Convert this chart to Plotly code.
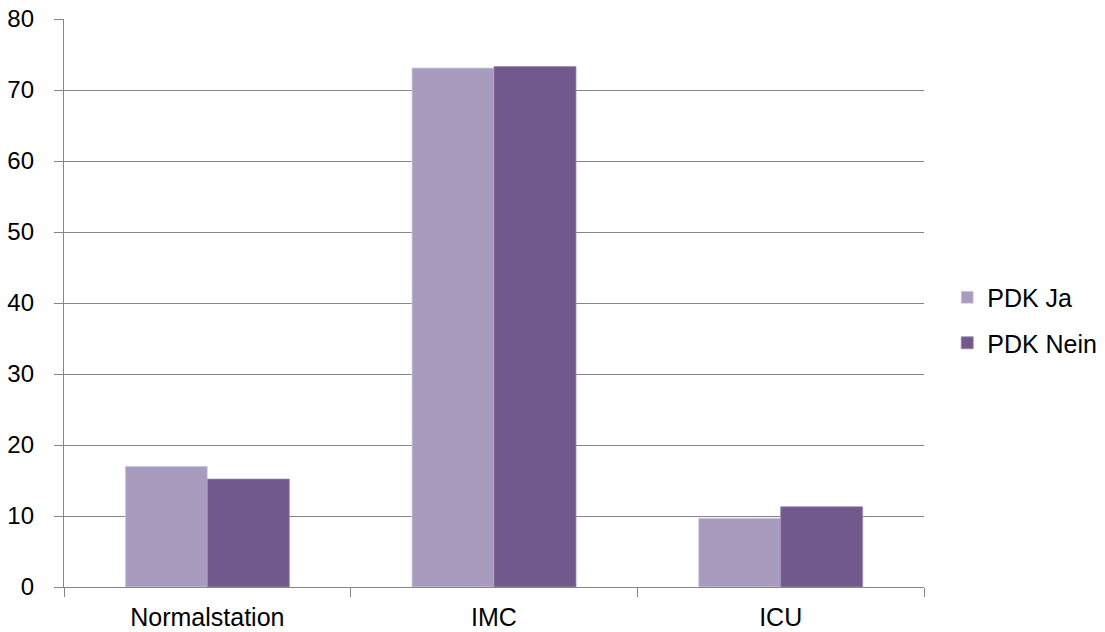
import plotly.graph_objects as go

# Verteilung der Patienten nach Station (in %)
categories = ["Normalstation", "IMC", "ICU"]
pdk_ja = [17.0, 73.1, 9.7]
pdk_nein = [15.2, 73.3, 11.3]
series_names = ["PDK Ja", "PDK Nein"]
y_ticks = [0, 10, 20, 30, 40, 50, 60, 70, 80]

color_ja = "#A99BBE"
color_nein = "#71598E"
grid_color = "#868686"
font_family = "Liberation Sans, Arial, sans-serif"

fig = go.Figure()
fig.add_trace(go.Bar(
    x=categories, y=pdk_ja, name=series_names[0],
    marker=dict(color=color_ja, line=dict(color="#D8D0E4", width=0.8)),
    legendgroup="ja",
))
fig.add_trace(go.Bar(
    x=categories, y=pdk_nein, name=series_names[1],
    marker=dict(color=color_nein, line=dict(color="#9A88B0", width=0.8)),
    legendgroup="nein",
))

fig.update_layout(
    width=1105, height=632,
    margin=dict(l=64, r=181, t=19, b=45, autoexpand=False),
    paper_bgcolor="white", plot_bgcolor="white",
    barmode="group", bargap=0.428, bargroupgap=0,
    font=dict(family=font_family, size=25, color="black"),
    legend=dict(
        x=1.027, y=0.47, xanchor="left", yanchor="middle",
        font=dict(size=25, color="black"),
        traceorder="grouped", tracegroupgap=10,
        itemwidth=30,
    ),
    xaxis=dict(
        showline=True, linecolor=grid_color, linewidth=1.3,
        ticks="outside", tickson="boundaries", ticklen=9,
        tickcolor=grid_color, tickwidth=1.3,
        showgrid=False, tickfont=dict(size=25),
        automargin=False, ticklabelstandoff=8,
    ),
    yaxis=dict(
        range=[0, 80], tickvals=y_ticks,
        showgrid=True, gridcolor=grid_color, gridwidth=1.3,
        showline=True, linecolor=grid_color, linewidth=1.3,
        ticks="outside", ticklen=9, tickcolor=grid_color, tickwidth=1.3,
        zeroline=False, tickfont=dict(size=24),
        ticklabelstandoff=15, automargin=False,
    ),
)

fig.write_html("out.html")
